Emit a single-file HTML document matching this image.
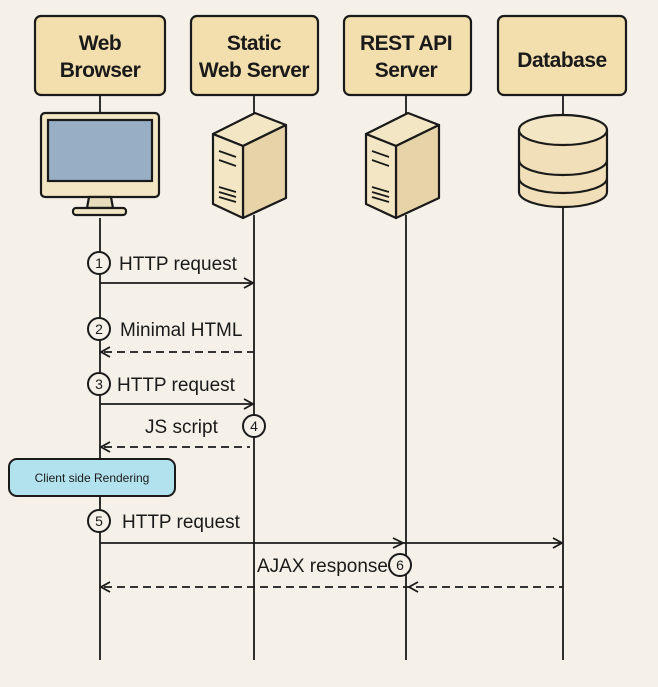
<!DOCTYPE html>
<html><head><meta charset="utf-8"><style>
body{margin:0;background:#f5f1e8;}
svg{display:block}
text{font-family:"Liberation Sans",sans-serif;fill:#1a1a1a}
</style></head><body>
<svg width="658" height="687" viewBox="0 0 658 687">
<rect width="658" height="687" fill="#f5f1e8"/>
<g stroke="#1a1a1a" stroke-width="2.2" fill="#f3dfae">
<rect x="35" y="16" width="130" height="79" rx="6"/>
<rect x="191" y="16" width="127" height="79" rx="6"/>
<rect x="344" y="16" width="127" height="79" rx="6"/>
<rect x="498" y="16" width="128" height="79" rx="6"/>
</g>
<g font-size="21" text-anchor="middle" font-weight="bold" letter-spacing="-0.5">
<text x="100" y="50">Web</text><text x="100" y="77">Browser</text>
<text x="254" y="50">Static</text><text x="254" y="77">Web Server</text>
<text x="406" y="50">REST API</text><text x="406" y="77">Server</text>
<text x="562" y="67">Database</text>
</g>
<g stroke="#1a1a1a" stroke-width="1.8" fill="none">
<line x1="100" y1="95" x2="100" y2="113"/><line x1="100" y1="218" x2="100" y2="660"/>
<line x1="254" y1="95" x2="254" y2="116"/><line x1="254" y1="215" x2="254" y2="660"/>
<line x1="406" y1="95" x2="406" y2="116"/><line x1="406" y1="215" x2="406" y2="660"/>
<line x1="563" y1="95" x2="563" y2="116"/><line x1="563" y1="205" x2="563" y2="660"/>
</g>
<!-- monitor -->
<g stroke="#1a1a1a" stroke-width="2.2">
<rect x="41" y="113" width="118" height="84" rx="4" fill="#f3e6c4"/>
<rect x="48" y="120" width="104" height="61" fill="#97aec4"/>
<path d="M89 197 L87 208 L113 208 L111 197Z" fill="#e6dcbc"/>
<rect x="73" y="208" width="53" height="7" rx="3" fill="#f3e6c4"/>
</g>
<!-- servers -->
<g id="srv" stroke="#1a1a1a" stroke-width="2.2" stroke-linejoin="round">
<path d="M213 134 L255 113 L286 125 L243 146Z" fill="#f3e6c4"/>
<path d="M243 146 L286 125 L286 198 L243 218Z" fill="#e6d3a8"/>
<path d="M213 134 L243 146 L243 218 L213 204Z" fill="#f3e6c4"/>
<g stroke-width="1.8"><line x1="219" y1="151" x2="236" y2="157"/><line x1="219" y1="160" x2="236" y2="166"/>
<line x1="219" y1="187" x2="236" y2="192"/><line x1="219" y1="192" x2="236" y2="197"/><line x1="219" y1="197" x2="236" y2="202"/></g>
</g>
<use href="#srv" x="153"/>
<!-- db -->
<g stroke="#1a1a1a" stroke-width="2.2" fill="#f0dfb8">
<path d="M519 130 L519 192 A44 15 0 0 0 607 192 L607 130"/>
<ellipse cx="563" cy="130" rx="44" ry="15" fill="#f3e6c4"/>
<path d="M519 160 A44 15 0 0 0 607 160" fill="none"/>
<path d="M519 178 A44 15 0 0 0 607 178" fill="none"/>
</g>
<!-- arrows -->
<g stroke="#1a1a1a" stroke-width="1.8" fill="none">
<line x1="100" y1="283" x2="252" y2="283"/><path d="M244 278 L253 283 L244 288"/>
<line x1="104" y1="352" x2="254" y2="352" stroke-dasharray="8 5"/><path d="M110 347 L101 352 L110 357"/>
<line x1="100" y1="404" x2="252" y2="404"/><path d="M244 399 L253 404 L244 409"/>
<line x1="104" y1="447" x2="250" y2="447" stroke-dasharray="8 5"/><path d="M110 442 L101 447 L110 452"/>
<line x1="100" y1="543" x2="561" y2="543"/><path d="M393 538 L403 543 L393 548"/><path d="M553 538 L562 543 L553 548"/>
<line x1="104" y1="587" x2="563" y2="587" stroke-dasharray="8 5"/><path d="M110 582 L101 587 L110 592"/><path d="M418 582 L409 587 L418 592"/>
</g>
<g stroke="#1a1a1a" stroke-width="2" fill="#f5f1e8">
<circle cx="99" cy="263" r="11"/><circle cx="99" cy="329" r="11"/><circle cx="99" cy="384" r="11"/>
<circle cx="254" cy="426" r="11"/><circle cx="99" cy="521" r="11"/><circle cx="400" cy="565" r="11"/>
</g>
<g font-size="14" text-anchor="middle">
<text x="99" y="268">1</text><text x="99" y="334">2</text><text x="99" y="389">3</text>
<text x="254" y="431">4</text><text x="99" y="526">5</text><text x="400" y="570">6</text>
</g>
<g font-size="19">
<text x="119" y="270">HTTP request</text>
<text x="120" y="336">Minimal HTML</text>
<text x="117" y="391">HTTP request</text>
<text x="145" y="433">JS script</text>
<text x="122" y="528">HTTP request</text>
<text x="257" y="572">AJAX response</text>
</g>
<rect x="9" y="459" width="166" height="37" rx="8" fill="#b3e2ef" stroke="#1a1a1a" stroke-width="2"/>
<text x="92" y="482" font-size="12" text-anchor="middle" font-family="DejaVu Sans">Client side Rendering</text>
</svg>
</body></html>
